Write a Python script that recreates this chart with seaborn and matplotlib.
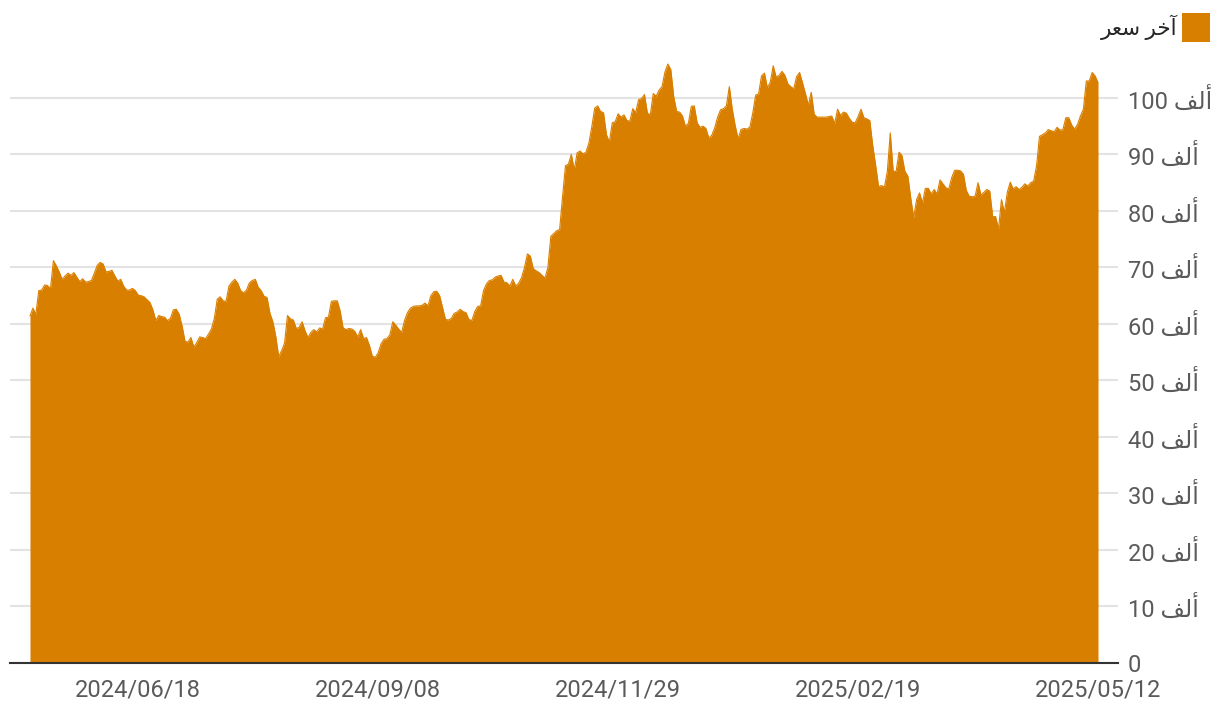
import pandas as pd
import seaborn as sns
import matplotlib.pyplot as plt
import matplotlib.dates as mdates
from matplotlib.patches import Patch

# 每日最后价格（单位：千），从 2024/05/12 到 2025/05/12
start_date = '2024-05-12'
prices = [
    61.4, 62.8, 61.7, 65.9, 66.0, 66.9, 66.8, 66.2, 71.2, 70.3,
    69.2, 67.9, 68.5, 69.0, 68.6, 69.1, 68.3, 67.5, 68.0, 67.4,
    67.5, 67.7, 69.0, 70.4, 70.9, 70.6, 69.2, 69.3, 69.5, 68.5,
    67.6, 67.9, 66.7, 66.0, 66.0, 66.3, 65.9, 65.1, 65.0, 64.8,
    64.3, 63.8, 62.5, 60.6, 61.5, 61.3, 61.2, 60.6, 61.0, 62.5,
    62.6, 61.7, 59.6, 56.9, 56.8, 57.6, 55.9, 56.7, 57.7, 57.6,
    57.4, 58.2, 59.1, 61.0, 64.4, 64.8, 64.1, 64.0, 66.7, 67.4,
    67.9, 67.2, 65.9, 65.5, 66.0, 67.3, 67.7, 67.9, 66.5, 65.9,
    64.9, 64.7, 61.9, 60.4, 57.8, 54.2, 55.3, 56.6, 61.5, 60.9,
    60.7, 59.2, 59.4, 60.4, 58.8, 57.6, 58.5, 59.0, 58.6, 59.3,
    59.1, 61.1, 61.2, 64.0, 64.1, 64.1, 62.3, 59.3, 59.0, 59.2,
    59.1, 58.7, 57.7, 59.0, 57.4, 57.6, 56.2, 54.3, 54.1, 54.9,
    56.5, 57.3, 57.4, 58.1, 60.4, 59.8, 59.1, 58.5, 60.6, 62.0,
    62.8, 63.1, 63.2, 63.2, 63.3, 63.7, 63.2, 65.0, 65.7, 65.8,
    65.0, 62.9, 60.8, 60.7, 61.0, 61.9, 62.1, 62.6, 62.2, 62.0,
    60.8, 60.6, 62.2, 63.1, 63.2, 65.9, 67.1, 67.7, 67.8, 68.3,
    68.5, 68.6, 67.4, 67.3, 66.7, 67.9, 66.7, 67.2, 68.2, 70.0,
    72.4, 72.0, 69.8, 69.4, 69.1, 68.6, 68.1, 70.0, 75.5, 76.0,
    76.5, 76.7, 82.5, 88.0, 88.3, 90.0, 87.3, 90.3, 90.6, 90.1,
    90.4, 92.0, 94.9, 98.2, 98.6, 97.6, 97.4, 93.5, 92.2, 95.6,
    95.8, 97.2, 96.6, 97.0, 96.0, 95.9, 98.1, 97.4, 99.7, 99.9,
    100.6, 97.3, 97.0, 100.8, 100.3, 101.4, 102.0, 104.6, 106.0, 105.0,
    100.2, 97.6, 97.5, 96.8, 95.0, 95.5, 98.5, 98.6, 95.6, 94.8,
    95.0, 94.6, 92.9, 93.4, 94.7, 96.6, 97.9, 98.1, 98.6, 102.0,
    98.0, 95.1, 92.8, 94.4, 94.6, 94.5, 94.8, 97.3, 100.5, 100.7,
    103.9, 104.4, 101.8, 102.8, 105.7, 103.7, 104.0, 104.7, 104.0, 102.5,
    102.0, 101.6, 103.8, 104.5, 102.7, 100.8, 98.7, 101.0, 97.1, 96.6,
    96.6, 96.6, 96.6, 96.7, 96.8, 95.5, 98.0, 96.9, 97.5, 97.3,
    96.4, 95.7, 95.6, 96.7, 98.0, 96.5, 96.3, 96.0, 91.6, 88.1,
    84.3, 84.5, 84.2, 87.0, 93.8, 87.0, 87.0, 90.4, 89.8, 87.0,
    86.2, 82.3, 78.8, 82.0, 83.2, 81.4, 84.0, 84.0, 83.0, 83.8,
    83.0, 85.5, 84.8, 84.1, 83.9, 85.9, 87.2, 87.2, 87.1, 86.5,
    83.6, 82.6, 82.5, 82.6, 85.0, 82.8, 83.3, 83.8, 83.5, 79.0,
    79.0, 76.8, 82.0, 79.7, 83.3, 85.1, 83.9, 84.3, 83.8, 84.2,
    84.8, 84.4, 85.0, 85.3, 88.0, 93.2, 93.5, 93.8, 94.4, 94.2,
    94.0, 94.8, 94.3, 94.4, 96.5, 96.5, 95.2, 94.5, 95.3, 96.8,
    98.0, 103.0, 103.0, 104.5, 103.9, 102.7,
]
tick_dates = ['2024-06-18', '2024-09-08', '2024-11-29', '2025-02-19', '2025-05-12']
y_ticks = [0, 10, 20, 30, 40, 50, 60, 70, 80, 90, 100]

# 阿拉伯文字（matplotlib 不做字形连接，这里直接写成显示形式）
thousand = '\uFED2\uFEDF\uFE83'                       # ألف
legend_label = '\uFEAE\uFECC\uFEB3 \uFEAE\uFEA7\uFE81'  # آخر سعر

color = '#d97f00'

df = pd.DataFrame({'Date': pd.date_range(start_date, periods=len(prices), freq='D'),
                   'Price': prices})

sns.set_theme(style='white')
plt.rcParams['font.family'] = ['Roboto', 'DejaVu Sans']

fig = plt.figure(figsize=(12.2, 7.16), dpi=100)
ax = fig.add_axes([10 / 1220, 1 - 663 / 716, 1108 / 1220, 608 / 716])

ax = sns.lineplot(x='Date', y='Price', data=df, color=color, linewidth=0.8, ax=ax)
ax.fill_between(df['Date'], df['Price'], 0, color=color, linewidth=0)

# 坐标轴范围
pad = pd.Timedelta(days=6.83)
ax.set_xlim(df['Date'].iloc[0] - pad, df['Date'].iloc[-1] + pad)
ax.set_ylim(0, 107.6)

# 网格和边框
ax.set_axisbelow(True)
ax.yaxis.grid(True, color='#e3e3e3', linewidth=1.5)
ax.xaxis.grid(False)
for s in ['top', 'left', 'right']:
    ax.spines[s].set_visible(False)
ax.spines['bottom'].set_color('#333333')
ax.spines['bottom'].set_linewidth(1.5)
ax.spines['bottom'].set_zorder(5)

# y 轴刻度在右侧
ax.yaxis.tick_right()
ax.set_yticks(y_ticks)
ax.set_yticklabels(['0' if v == 0 else f'{v} {thousand}' for v in y_ticks])
ax.tick_params(axis='y', length=0, pad=7, labelsize=17, labelcolor='#5a5a5a')

ax.set_xticks(pd.to_datetime(tick_dates))
ax.xaxis.set_major_formatter(mdates.DateFormatter('%Y/%m/%d'))
ax.tick_params(axis='x', length=0, pad=11, labelsize=17, labelcolor='#5a5a5a')

ax.set_xlabel('')
ax.set_ylabel('')

# 图例
handle = Patch(facecolor=color, edgecolor='none', label=legend_label)
fig.legend(handles=[handle], loc='upper right', bbox_to_anchor=(1210 / 1220, 1 - 13 / 716),
           frameon=False, markerfirst=False, fontsize=15.5, handlelength=1.28, handleheight=1.7,
           handletextpad=0.25, borderpad=0, borderaxespad=0)

plt.savefig('out.png', dpi=100)
